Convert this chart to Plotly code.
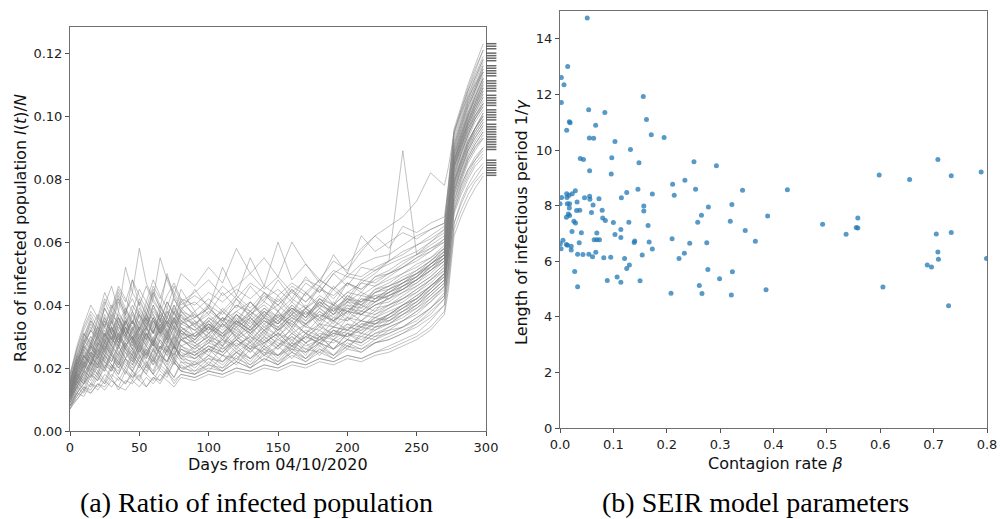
import plotly.graph_objects as go

# ---------------- Data ----------------
days = [0, 5, 10, 15, 20, 25, 30, 35, 40, 45, 50, 55, 60, 65, 70, 75, 80,
        90, 100, 110, 120, 130, 140, 150, 160, 170, 180, 190, 200, 210, 220, 230, 240, 250, 260, 270,
        273, 277, 282, 287, 292, 298]

# infected ratio trajectories, in thousandths (value * 1000)
traj_01 = [9,12,15,19,17,22,20,24,21,19,23,26,21,24,22,27,23, 22,26,24,23,27,25,24,28,26,25,29,27,30,29,32,33,36,39,44, 55,72,78,83,86,90]
traj_02 = [12,17,22,20,26,24,29,27,31,26,30,33,28,32,29,35,31, 27,30,28,32,29,33,30,34,31,29,33,32,35,34,37,40,42,46,50, 62,80,86,92,96,100]
traj_03 = [15,21,27,32,29,35,31,37,34,40,36,33,38,35,41,37,34, 36,39,35,38,41,37,40,36,39,42,38,41,44,42,45,47,50,53,57, 70,86,93,100,106,112]
traj_04 = [8,10,13,12,15,14,17,13,16,15,18,14,17,16,19,15,18, 17,19,18,20,19,21,20,22,21,23,22,24,23,25,27,29,31,35,40, 50,66,72,77,80,84]
traj_05 = [11,18,16,23,21,27,24,22,28,25,31,27,24,29,26,30,27, 25,28,31,27,30,26,29,32,28,31,30,33,32,36,35,38,41,45,49, 60,78,85,91,95,99]
traj_06 = [13,16,21,25,23,28,33,29,35,31,28,34,37,32,36,33,39, 35,32,36,34,38,35,33,37,40,36,39,38,41,43,42,46,48,51,55, 67,84,90,97,102,108]
traj_07 = [17,25,31,28,36,33,39,42,37,44,40,46,41,38,43,47,42, 40,44,41,45,42,46,43,47,44,48,45,49,48,51,53,55,57,60,63, 75,92,99,106,112,118]
traj_08 = [10,14,18,16,21,19,24,20,23,26,22,25,28,24,27,23,26, 24,27,25,29,26,28,31,27,30,28,32,30,33,32,35,37,40,43,47, 58,76,82,88,92,96]
traj_09 = [12,19,24,28,25,31,28,34,30,27,32,29,35,31,28,33,30, 28,31,34,30,33,29,32,35,31,34,33,36,35,38,40,42,45,48,52, 64,82,89,95,100,105]
traj_10 = [14,22,19,26,30,27,33,29,36,32,38,34,31,37,33,39,35, 32,35,38,34,37,40,36,39,37,41,39,42,41,44,46,48,51,54,58, 70,88,95,102,108,114]
traj_11 = [7,11,14,13,17,15,18,16,20,17,19,22,18,21,19,23,20, 19,21,20,23,21,24,22,25,23,26,24,27,26,28,30,32,34,38,42, 52,69,75,80,84,87]
traj_12 = [16,23,29,34,30,37,33,41,36,32,39,35,42,38,34,40,36, 34,37,33,38,35,39,36,41,37,40,38,42,40,44,45,47,50,52,56, 68,86,93,99,104,110]
traj_13 = [10,16,13,20,18,24,21,19,25,22,28,24,21,27,24,29,25, 23,26,29,25,28,24,27,30,26,29,28,31,30,33,34,37,39,43,47, 58,75,81,87,91,95]
traj_14 = [13,20,25,23,29,26,32,36,31,35,30,37,33,40,35,31,38, 33,30,35,32,37,33,36,34,38,35,37,39,38,41,43,45,48,51,54, 66,84,91,97,102,107]
traj_15 = [9,13,17,21,18,23,20,25,22,19,24,21,26,23,20,25,22, 21,24,22,26,23,27,24,26,25,28,26,29,28,31,32,35,38,41,46, 57,74,80,86,90,94]
traj_16 = [18,26,33,38,35,42,38,45,41,48,43,39,46,42,49,44,40, 43,40,46,42,47,44,41,46,43,48,45,50,49,52,54,56,59,61,64, 77,94,101,108,114,121]
traj_17 = [11,17,22,26,24,29,26,31,34,29,33,30,36,31,35,32,37, 30,34,31,35,32,36,33,37,34,38,35,39,37,40,42,44,47,50,54, 65,83,90,96,101,106]
traj_18 = [12,15,19,24,21,27,24,30,26,23,28,31,27,25,30,26,29, 27,30,26,29,32,28,31,27,30,33,31,34,33,36,38,40,42,46,50, 61,79,85,91,96,101]
traj_19 = [15,24,21,28,33,29,36,32,38,42,37,33,39,35,41,37,45, 38,42,38,43,39,44,40,45,41,46,42,47,45,49,50,53,56,58,61, 73,90,97,104,109,116]
traj_20 = [8,12,11,15,14,18,16,14,19,17,21,18,16,20,18,22,19, 18,20,19,22,20,23,21,24,22,25,23,26,25,28,29,31,34,37,42, 52,70,76,81,85,88]
traj_21 = [13,18,24,21,27,31,27,34,30,26,32,29,35,32,28,33,31, 29,33,30,34,31,35,32,36,33,32,36,35,38,37,40,42,44,48,51, 63,81,88,94,99,104]
traj_22 = [10,15,20,24,21,26,30,25,28,32,27,24,29,26,31,27,24, 25,28,26,30,27,31,28,26,30,28,31,30,33,35,36,39,41,45,49, 60,77,84,90,94,98]
traj_23 = [14,21,27,24,31,36,32,28,35,31,37,34,40,36,32,38,34, 32,36,33,37,34,38,35,39,36,40,37,41,40,43,44,47,49,53,56, 68,86,92,99,104,111]
traj_24 = [9,14,12,18,16,21,19,23,20,25,22,19,24,21,26,23,20, 21,23,22,25,23,26,24,27,25,28,26,29,28,31,33,35,37,41,45, 56,73,79,85,89,93]
traj_25 = [16,22,28,32,37,33,40,36,31,38,34,41,37,33,39,35,42, 36,39,35,40,37,41,38,42,39,43,40,44,43,46,48,50,53,55,59, 71,89,96,103,108,115]
traj_26 = [11,16,21,19,24,22,27,24,29,26,23,28,25,30,27,24,29, 26,29,27,31,28,32,29,27,31,29,32,31,34,35,37,39,42,46,49, 60,78,84,90,95,99]
traj_27 = [12,20,26,30,27,33,29,36,32,28,34,30,27,33,29,35,31, 30,33,29,34,31,35,32,36,34,37,35,38,37,40,41,44,46,49,53, 65,83,89,95,100,104]
traj_28 = [7,10,13,15,13,16,14,17,15,18,16,14,17,15,19,16,18, 17,19,18,20,19,21,20,22,21,23,22,24,23,25,26,28,30,33,38, 47,64,70,75,79,82]
traj_29 = [15,23,29,26,33,30,37,34,39,35,32,37,34,31,36,33,38, 34,31,36,33,38,34,37,35,39,36,40,38,42,41,44,46,49,52,55, 67,85,92,98,103,109]
traj_30 = [13,18,23,27,25,30,27,33,30,35,31,28,33,30,35,32,29, 31,34,30,33,36,32,35,31,34,37,35,38,37,40,42,45,47,51,54, 66,84,90,96,101,106]
traj_31 = [10,17,22,19,25,23,28,32,27,30,26,31,28,25,30,27,32, 28,25,29,27,30,28,31,29,32,30,33,32,35,34,37,40,43,46,50, 61,79,86,92,96,101]
traj_32 = [18,27,34,40,36,44,39,46,42,38,45,41,48,43,39,46,41, 44,48,43,46,50,45,49,44,48,46,51,49,53,55,56,59,62,64,66, 79,96,103,110,116,123]
traj_33 = [12,17,15,22,20,25,23,20,26,24,29,25,22,27,25,30,26, 24,27,25,29,26,30,27,31,28,30,29,32,31,34,35,38,40,44,48, 59,77,83,89,93,97]
traj_34 = [14,19,25,29,26,32,29,35,31,28,33,37,32,35,31,36,33, 30,34,31,35,32,36,34,38,35,39,36,40,39,42,43,46,48,52,55, 67,85,91,98,103,108]
traj_35 = [11,14,18,22,20,24,22,27,23,21,26,23,28,24,22,27,24, 23,26,24,28,25,29,26,30,27,29,31,30,32,34,36,38,41,44,48, 59,76,83,89,93,97]
traj_36 = [16,24,30,35,32,39,35,43,38,34,41,37,44,39,36,42,38, 36,40,37,42,38,43,40,44,41,45,43,47,45,48,50,52,55,57,61, 73,91,98,105,111,117]
traj_37 = [11,20,28,35,30,40,46,38,52,44,58,47,42,55,48,43,50, 46,52,47,58,50,55,49,60,53,48,54,51,57,62,58,65,63,66,68, 78,95,102,108,113,119]
traj_38 = [10,16,21,25,23,28,25,31,27,24,30,27,32,28,25,31,27, 29,33,30,35,32,37,34,39,36,42,40,44,47,50,54,89,56,60,64, 72,84,90,96,100,104]
traj_39 = [13,19,24,22,28,26,31,28,33,29,35,31,28,34,30,36,32, 34,38,35,40,38,42,45,41,47,44,50,53,58,62,65,68,73,82,78, 84,95,101,106,110,114]
traj_40 = [8,11,14,12,15,13,16,14,13,16,14,17,15,18,16,14,17, 16,18,17,19,18,20,19,21,20,22,21,23,22,24,25,27,29,32,37, 45,62,68,73,77,81]
traj_41 = [10,15,19,24,20,26,22,28,25,21,27,23,29,25,22,28,24, 21,26,22,27,23,28,24,29,25,30,26,31,28,33,34,37,40,44,48, 58,76,83,89,94,98]
traj_42 = [13,20,26,22,30,25,33,28,35,30,26,33,29,36,31,27,34, 38,31,36,29,35,30,37,32,38,33,39,35,40,38,43,45,48,51,55, 66,84,91,97,102,107]
traj_43 = [11,18,15,21,26,22,19,27,23,29,24,20,26,22,28,23,30, 25,21,27,22,29,24,30,25,31,27,32,29,34,33,36,39,42,45,50, 61,79,86,92,96,100]
traj_44 = [14,21,28,33,29,36,31,38,33,29,37,32,40,35,30,38,33, 29,35,30,37,32,38,34,39,35,41,37,42,39,44,46,48,50,53,57, 69,87,94,100,106,112]
traj_45 = [9,15,19,17,23,20,25,22,18,24,21,27,23,20,26,22,19, 22,19,24,21,26,22,27,23,28,24,29,26,31,30,33,35,38,42,46, 56,73,80,86,90,93]
traj_46 = [15,23,20,27,32,28,35,30,37,33,28,36,31,38,34,30,37, 33,40,34,42,36,44,38,45,39,46,40,47,44,49,51,54,56,59,62, 74,91,98,105,110,116]
traj_47 = [12,17,22,27,23,29,25,31,26,22,28,24,30,26,32,27,23, 27,24,30,26,31,27,33,28,34,30,35,32,37,36,39,41,44,47,51, 62,80,87,93,98,102]
traj_48 = [8,13,17,15,19,16,21,18,23,19,16,21,18,24,20,17,22, 19,23,20,25,21,26,22,27,23,28,24,29,27,30,31,33,36,39,43, 53,70,77,82,86,89]
traj_49 = [16,24,31,27,35,30,38,34,29,37,32,39,35,31,38,34,41, 37,33,39,35,41,36,43,38,44,40,46,42,48,47,50,52,55,58,60, 72,89,96,103,108,114]
traj_50 = [11,19,24,21,27,24,30,26,33,28,24,31,27,34,29,25,32, 28,33,27,35,30,36,31,37,33,38,34,40,37,41,43,45,48,52,56, 67,85,92,98,103,109]
traj_51 = [13,18,23,28,24,31,27,24,30,35,29,33,28,35,31,36,30, 35,29,34,31,36,32,38,33,39,34,40,36,42,41,44,46,49,53,56, 68,86,93,100,105,110]
traj_52 = [10,16,21,18,24,20,26,23,28,24,21,26,23,29,25,22,27, 24,29,25,30,26,32,27,33,29,34,30,36,33,37,39,42,45,48,52, 63,81,88,94,99,103]
traj_53 = [12,22,30,36,31,39,34,42,37,48,40,35,44,39,50,42,38, 45,39,52,43,55,46,60,48,53,47,56,50,62,57,60,63,61,64,66, 76,93,100,107,112,118]
traj_54 = [9,14,18,22,19,24,21,18,23,20,26,22,19,25,21,27,23, 20,24,21,25,22,27,23,28,24,30,26,31,29,32,34,36,39,42,46, 57,75,81,87,91,95]
traj_55 = [14,20,26,30,27,34,29,36,31,27,33,29,36,32,38,33,29, 31,36,32,37,33,39,35,40,36,42,38,43,41,45,47,50,52,55,58, 70,88,95,101,107,113]
traj_56 = [11,16,20,25,22,28,24,21,27,30,25,29,26,31,27,24,29, 26,31,27,33,28,34,30,35,31,36,33,38,35,39,40,43,46,49,53, 64,82,88,94,99,103]
traj_57 = [7,12,16,14,18,15,20,17,15,19,17,21,18,16,20,17,21, 18,21,19,22,20,23,21,25,22,26,23,27,25,28,29,31,33,36,40, 49,66,73,78,82,85]
traj_58 = [15,22,27,24,31,28,35,30,26,33,29,35,31,37,32,28,35, 32,28,34,30,36,31,38,33,39,35,41,37,43,42,45,48,50,54,57, 69,87,94,100,105,111]
traj_59 = [12,18,23,27,24,30,33,28,35,30,27,32,36,31,34,29,33, 30,35,31,37,33,38,34,40,36,41,37,43,40,45,46,49,51,54,58, 70,88,94,101,106,112]
traj_60 = [10,14,19,17,22,19,25,21,27,23,20,25,22,27,24,21,26, 23,27,24,29,25,30,26,31,28,32,29,34,31,35,37,40,43,46,50, 61,79,85,91,96,100]
traj_61 = [17,26,32,37,33,41,36,44,39,34,42,37,45,40,36,43,39, 41,37,44,39,46,41,48,42,49,44,50,46,52,51,54,57,59,62,65, 78,95,102,109,115,121]
traj_62 = [13,19,24,21,28,25,31,27,33,29,25,31,27,33,29,26,32, 29,34,29,36,31,37,32,38,34,39,35,41,38,42,44,47,49,53,56, 68,86,92,98,104,109]
traj_63 = [8,12,15,18,16,20,17,22,19,16,21,18,23,19,17,22,19, 18,22,19,24,20,25,21,26,23,27,24,28,26,29,31,33,35,39,43, 53,71,78,83,87,90]
traj_64 = [14,22,27,32,28,35,31,27,34,38,32,36,31,38,34,40,35, 37,32,38,34,41,36,42,37,44,39,45,41,47,46,49,52,54,57,60, 72,90,97,104,109,115]

trajectories = [traj_01, traj_02, traj_03, traj_04, traj_05, traj_06, traj_07, traj_08,
                traj_09, traj_10, traj_11, traj_12, traj_13, traj_14, traj_15, traj_16,
                traj_17, traj_18, traj_19, traj_20, traj_21, traj_22, traj_23, traj_24,
                traj_25, traj_26, traj_27, traj_28, traj_29, traj_30, traj_31, traj_32,
                traj_33, traj_34, traj_35, traj_36, traj_37, traj_38, traj_39, traj_40,
                traj_41, traj_42, traj_43, traj_44, traj_45, traj_46, traj_47, traj_48,
                traj_49, traj_50, traj_51, traj_52, traj_53, traj_54, traj_55, traj_56,
                traj_57, traj_58, traj_59, traj_60, traj_61, traj_62, traj_63, traj_64]

# small dark marks just right of the left panel's end
edge_mark_values = [0.1230, 0.1222, 0.1214, 0.1200, 0.1192, 0.1184, 0.1176, 0.1160, 0.1152,
                    0.1144, 0.1136, 0.1128, 0.1112, 0.1104, 0.1096, 0.1088, 0.1080, 0.1066,
                    0.1058, 0.1050, 0.1042, 0.1034, 0.1020, 0.1012, 0.1004, 0.0996, 0.0988,
                    0.0974, 0.0966, 0.0958, 0.0950, 0.0942, 0.0934, 0.0926, 0.0918, 0.0910,
                    0.0902, 0.0894, 0.0860, 0.0852, 0.0844, 0.0836, 0.0828, 0.0820, 0.0812]

# SEIR parameters scatter
beta = [0.051, 0.0025, 0.0144, 0.0075, 0.0025, 0.156, 0.0537, 0.084, 0.162, 0.0175, 0.019,
        0.0125, 0.0668, 0.055, 0.063, 0.171, 0.195, 0.103, 0.132, 0.038, 0.044, 0.097, 0.148,
        0.0555, 0.096, 0.251, 0.293, 0.598, 0.655, 0.708, 0.733, 0.789, 0.211, 0.234, 0.214,
        0.254, 0.146, 0.125, 0.173, 0.115, 0.426, 0.342, 0.0287, 0.0125, 0.017, 0.023, 0.003,
        0.013, 0.046, 0.0555, 0.056, 0.073, 0.0, 0.0137, 0.018, 0.032, 0.062, 0.157, 0.157,
        0.322, 0.278, 0.0175, 0.031, 0.037, 0.079, 0.059, 0.0156, 0.018, 0.012, 0.389, 0.265,
        0.080, 0.085, 0.558, 0.555, 0.558, 0.026, 0.029, 0.100, 0.129, 0.258, 0.319, 0.492,
        0.165, 0.114, 0.347, 0.0225, 0.040, 0.069, 0.103, 0.536, 0.733, 0.705, 0.114, 0.210,
        0.140, 0.139, 0.167, 0.243, 0.275, 0.366, 0.036, 0.064, 0.069, 0.074, 0.0056, 0.0006,
        0.002, 0.012, 0.014, 0.021, 0.021, 0.173, 0.067, 0.233, 0.033, 0.043, 0.054, 0.154,
        0.061, 0.082, 0.095, 0.121, 0.223, 0.708, 0.709, 0.799,
        0.0275, 0.033, 0.0886, 0.107, 0.114, 0.125, 0.130, 0.150, 0.208, 0.261, 0.266, 0.277,
        0.299, 0.323, 0.321, 0.386, 0.605, 0.688, 0.696, 0.728]
infectious_period = [14.75, 12.61, 13.0, 12.35, 11.71, 11.92, 11.45, 11.35, 11.10, 11.02, 10.98,
        10.71, 10.89, 10.43, 10.42, 10.55, 10.45, 10.31, 10.02, 9.69, 9.66, 9.72, 9.54,
        9.25, 9.14, 9.58, 9.43, 9.10, 8.94, 9.66, 9.07, 9.21, 8.77, 8.91, 8.37,
        8.59, 8.59, 8.47, 8.42, 8.28, 8.57, 8.55, 8.53, 8.43, 8.37, 8.43, 8.29,
        8.29, 8.28, 8.34, 8.23, 8.25, 8.07, 8.07, 8.07, 8.13, 8.02, 7.99, 7.81,
        8.04, 7.95, 7.91, 7.82, 7.83, 7.83, 7.75, 7.70, 7.64, 7.58, 7.63, 7.65,
        7.55, 7.46, 7.55, 7.21, 7.19, 7.44, 7.37, 7.39, 7.40, 7.40, 7.44, 7.33,
        7.28, 7.14, 7.10, 7.07, 7.02, 7.01, 6.96, 6.97, 7.03, 6.98, 6.85, 6.81,
        6.73, 6.67, 6.69, 6.65, 6.66, 6.72, 6.66, 6.77, 6.77, 6.77, 6.75, 6.63,
        6.45, 6.60, 6.57, 6.54, 6.40, 6.44, 6.32, 6.29, 6.25, 6.24, 6.25, 6.22,
        6.16, 6.12, 6.14, 6.10, 6.10, 6.33, 6.07, 6.10,
        5.63, 5.08, 5.31, 5.43, 5.24, 5.74, 5.86, 5.30, 4.85, 5.13, 4.84, 5.70,
        5.37, 5.62, 4.78, 4.97, 5.07, 5.86, 5.79, 4.40]

left_yticks = [0.00, 0.02, 0.04, 0.06, 0.08, 0.10, 0.12]
left_xticks = [0, 50, 100, 150, 200, 250, 300]
right_xticks = [0.0, 0.1, 0.2, 0.3, 0.4, 0.5, 0.6, 0.7, 0.8]
right_yticks = [0, 2, 4, 6, 8, 10, 12, 14]

# ---------------- Figure ----------------
fig = go.Figure()

for tr in trajectories:
    fig.add_trace(go.Scatter(
        x=days, y=[v / 1000 for v in tr], mode="lines",
        line=dict(color="rgba(128,128,128,0.48)", width=1),
        xaxis="x", yaxis="y", showlegend=False, hoverinfo="skip"))

fig.add_trace(go.Scatter(
    x=[0.5] * len(edge_mark_values), y=edge_mark_values, mode="markers",
    marker=dict(symbol="line-ew", size=7, line=dict(color="rgba(40,40,40,0.7)", width=1.5)),
    cliponaxis=False, xaxis="x3", yaxis="y", showlegend=False, hoverinfo="skip"))

fig.add_trace(go.Scatter(
    x=beta, y=infectious_period, mode="markers",
    marker=dict(color="rgba(31,119,180,0.75)", size=5, line=dict(width=0)),
    xaxis="x2", yaxis="y2", showlegend=False))

W, H = 1000, 519
FONT = "DejaVu Sans"
axis_common = dict(showline=True, mirror=True, linecolor="#707070", linewidth=1,
                   ticks="outside", ticklen=4, tickwidth=1, tickcolor="#505050",
                   showgrid=False, zeroline=False, automargin=False,
                   tickfont=dict(family=FONT, size=13, color="#222222"))

fig.update_layout(
    width=W, height=H, autosize=False,
    margin=dict(l=0, r=0, t=0, b=0, pad=0),
    paper_bgcolor="white", plot_bgcolor="white",
    xaxis=dict(domain=[70 / W, 486 / W], range=[0, 300], tickvals=left_xticks,
               anchor="y", **axis_common),
    yaxis=dict(domain=[1 - 431 / H, 1 - 27 / H], range=[0, 0.1283], tickvals=left_yticks,
               tickformat=".2f", anchor="x", **axis_common),
    xaxis2=dict(domain=[560 / W, 987 / W], range=[0, 0.8], tickvals=right_xticks,
                tickformat=".1f", anchor="y2", **axis_common),
    yaxis2=dict(domain=[1 - 428 / H, 1 - 11 / H], range=[0, 15], tickvals=right_yticks,
                anchor="x2", **axis_common),
    xaxis3=dict(domain=[487 / W, 496 / W], range=[0, 1], visible=False, anchor="y",
                automargin=False),
)

def ann(text, px, py, size, family=FONT, angle=0, color="#111111"):
    fig.add_annotation(text=text, x=px / W, y=1 - py / H, xref="paper", yref="paper",
                       showarrow=False, xanchor="center", yanchor="middle",
                       textangle=angle, font=dict(family=family, size=size, color=color))

ann("Ratio of infected population <i>I</i>(<i>t</i>)/<i>N</i>", 20, 228, 16, angle=-90)
ann("Days from 04/10/2020", 278, 464, 16)
ann("Length of infectious period 1/<i>γ</i>", 521, 222, 16, angle=-90)
ann("Contagion rate <i>β</i>", 775, 463, 16)
ann("(a) Ratio of infected population", 256, 502, 28, family="Liberation Serif", color="#000000")
ann("(b) SEIR model parameters", 755, 502, 28, family="Liberation Serif", color="#000000")

fig.write_html("out.html", config={"responsive": False})
